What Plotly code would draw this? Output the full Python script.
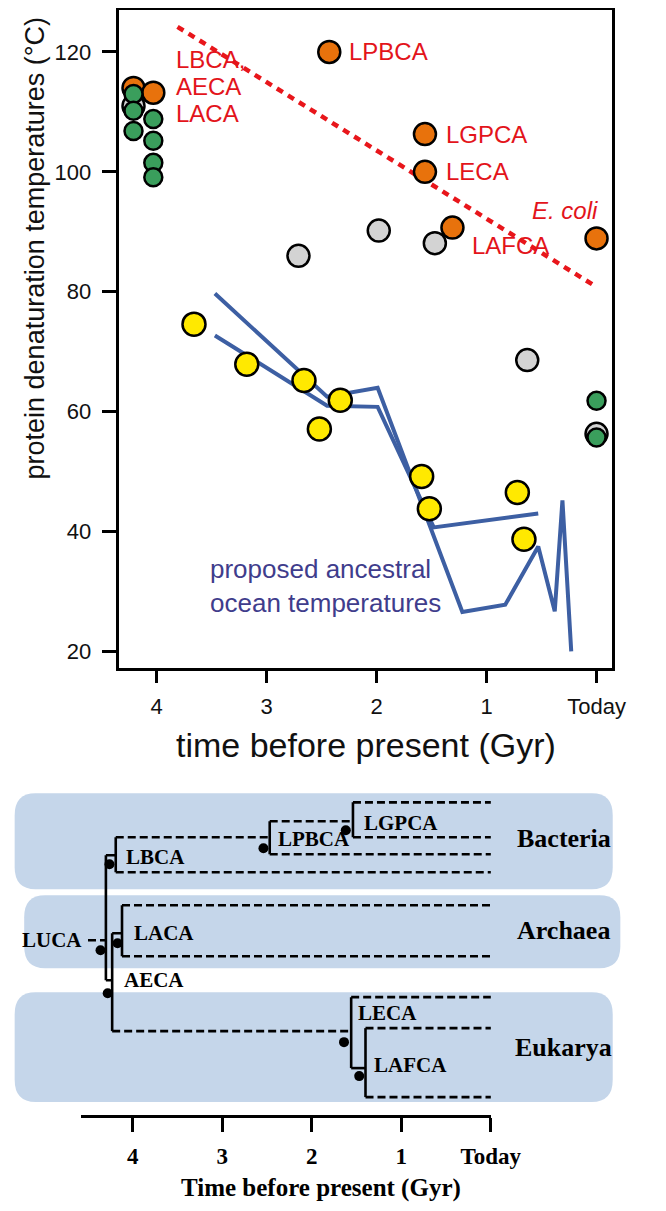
import plotly.graph_objects as go

# page is 666x1211; the html body has an 8px margin, so the figure is 650x1195
OFF = 8
W, H = 666 - 2 * OFF, 1211 - 2 * OFF

# ---------------- top panel data (time in Gyr before present, temperature in C) ----------------
green_t = [4.21, 4.21, 4.21, 4.03, 4.03, 4.03, 4.03, 0.0, 0.0]
green_v = [113.0, 110.2, 106.8, 108.8, 105.2, 101.5, 99.1, 61.8, 55.7]
orange_t = [4.21, 4.03, 2.43, 1.56, 1.56, 1.31, 0.0]
orange_v = [114.0, 113.2, 120.0, 106.3, 100.0, 90.7, 88.9]
gray_t = [4.21, 2.71, 1.98, 1.47, 0.63, 0.0]
gray_v = [111.0, 86.0, 90.2, 88.1, 68.6, 56.3]
yellow_t = [3.66, 3.18, 2.66, 2.52, 2.33, 1.59, 1.52, 0.72, 0.66]
yellow_v = [74.6, 67.9, 65.2, 57.1, 61.9, 49.2, 43.8, 46.5, 38.7]

ocean1_t = [3.47, 2.45, 1.99, 1.22, 0.83, 0.53, 0.38, 0.31, 0.23]
ocean1_v = [79.7, 62.5, 64.0, 26.6, 27.8, 37.5, 26.7, 45.2, 20.0]
ocean2_t = [3.47, 2.45, 1.99, 1.48, 0.53]
ocean2_v = [72.7, 61.0, 60.8, 40.7, 43.0]

trend_t = [3.81, 0.0]
trend_v = [124.2, 80.8]

top_xticks = [4, 3, 2, 1, 0]
top_xticktext = ["4", "3", "2", "1", "Today"]
top_yticks = [20, 40, 60, 80, 100, 120]

# red labels: (text, t, v, anchor)
red_labels = [
    ("LBCA,", 3.84, 118.8, "left"),
    ("AECA", 3.84, 114.2, "left"),
    ("LACA", 3.84, 109.7, "left"),
    ("LPBCA", 2.27, 120.0, "left"),
    ("LGPCA", 1.39, 106.3, "left"),
    ("LECA", 1.39, 100.0, "left"),
    ("<i>E. coli</i>", -0.03, 93.5, "right"),
    ("LAFCA", 1.15, 87.7, "left"),
]

# ---------------- tree data (time in Gyr, row position) ----------------
# horizontal (dashed) branches: (t_start, t_end, row)
dashed_branches = [
    (1.54, 0.0, 802), (1.54, 0.0, 837), (2.47, 1.54, 821), (2.47, 0.0, 854),
    (4.19, 2.47, 837), (4.19, 0.0, 872),
    (4.12, 0.0, 905), (4.12, 0.0, 956),
    (4.50, 4.30, 940),
    (4.23, 1.56, 1031), (1.56, 0.0, 997), (1.40, 0.0, 1028), (1.40, 0.0, 1097),
]
# solid connectors: (t_start, t_end, row)
solid_stubs = [(4.30, 4.19, 855), (4.30, 4.23, 980), (4.23, 4.12, 933), (1.56, 1.40, 1068)]
# vertical lines: (t, row_top, row_bottom)
verticals = [
    (1.54, 802, 837), (2.47, 821, 854), (4.19, 837, 872), (4.30, 855, 980),
    (4.23, 933, 1031), (4.12, 905, 956), (1.56, 997, 1068), (1.40, 1028, 1097),
]
node_names = ["LUCA", "LBCA", "LACA", "AECA", "LPBCA", "LGPCA", "LECA", "LAFCA"]
node_t = [4.36, 4.26, 4.17, 4.28, 2.54, 1.62, 1.64, 1.47]
node_row = [950, 864, 943, 993, 848, 830, 1042, 1076]
# node labels: (text, t, row, anchor)
node_labels = [
    ("LUCA", 4.54, 940, "right"), ("LBCA", 4.10, 857, "left"), ("LACA", 4.01, 933, "left"),
    ("AECA", 4.12, 980, "left"), ("LPBCA", 2.40, 839, "left"), ("LGPCA", 1.44, 823, "left"),
    ("LECA", 1.51, 1013, "left"), ("LAFCA", 1.33, 1065, "left"),
]
domain_names = ["Bacteria", "Archaea", "Eukarya"]
domain_label_t = [-0.27, -0.27, -0.25]
domain_label_row = [838, 930, 1047]
bottom_xticks = [4, 3, 2, 1, 0]
bottom_xticktext = ["4", "3", "2", "1", "Today"]

# ---------------- figure ----------------
SANS = "Liberation Sans, Arial, Helvetica, sans-serif"
SERIF = "Liberation Serif, Times New Roman, serif"


def px(x):
    """page x pixel -> paper fraction"""
    return (x - OFF) / W


def py(y):
    """page y pixel -> paper fraction"""
    return 1 - (y - OFF) / H


fig = go.Figure()

edge = dict(color="black", width=2.5)
fig.add_trace(go.Scatter(x=trend_t, y=trend_v, mode="lines",
                         line=dict(color="#e8161b", width=4.5, dash="7px,6px"),
                         xaxis="x", yaxis="y", showlegend=False))
fig.add_trace(go.Scatter(x=ocean1_t, y=ocean1_v, mode="lines",
                         line=dict(color="#3d5fa3", width=4), showlegend=False))
fig.add_trace(go.Scatter(x=ocean2_t, y=ocean2_v, mode="lines",
                         line=dict(color="#3d5fa3", width=4), showlegend=False))
fig.add_trace(go.Scatter(x=gray_t, y=gray_v, mode="markers",
                         marker=dict(size=22, color="#d3d3d3", line=edge), showlegend=False))
fig.add_trace(go.Scatter(x=orange_t, y=orange_v, mode="markers",
                         marker=dict(size=22, color="#e8720c", line=edge), showlegend=False))
fig.add_trace(go.Scatter(x=yellow_t, y=yellow_v, mode="markers",
                         marker=dict(size=23, color="#ffe900", line=edge), showlegend=False))
fig.add_trace(go.Scatter(x=green_t, y=green_v, mode="markers",
                         marker=dict(size=18, color="#3a9e5c", line=edge), showlegend=False))

for text, t, v, anc in red_labels:
    fig.add_annotation(x=t, y=v, xref="x", yref="y", text=text, showarrow=False,
                       xanchor=anc, yanchor="middle",
                       font=dict(family=SANS, size=24, color="#e3141b"))

fig.add_annotation(x=3.53, y=30.9, xref="x", yref="y",
                   text="proposed ancestral<br>ocean temperatures", showarrow=False,
                   xanchor="left", yanchor="middle", align="left",
                   font=dict(family=SANS, size=26, color="#3f3d8c"))

# axis titles
fig.add_annotation(x=px(36), y=py(247), xref="paper", yref="paper",
                   xanchor="center", yanchor="middle",
                   text="protein denaturation temperatures (°C)", textangle=-90,
                   showarrow=False, font=dict(family=SANS, size=27, color="#111"))
fig.add_annotation(x=px(384), y=py(745), xref="paper", yref="paper",
                   xanchor="center", yanchor="middle",
                   text="time before present (Gyr)", showarrow=False,
                   font=dict(family=SANS, size=34, color="#111"))

# ---------------- tree ----------------
def rrect(x0, y0, x1, y1, r):
    X, Y = px, py
    return (f"M {X(x0+r)},{Y(y0)} L {X(x1-r)},{Y(y0)} Q {X(x1)},{Y(y0)} {X(x1)},{Y(y0+r)} "
            f"L {X(x1)},{Y(y1-r)} Q {X(x1)},{Y(y1)} {X(x1-r)},{Y(y1)} "
            f"L {X(x0+r)},{Y(y1)} Q {X(x0)},{Y(y1)} {X(x0)},{Y(y1-r)} "
            f"L {X(x0)},{Y(y0+r)} Q {X(x0)},{Y(y0)} {X(x0+r)},{Y(y0)} Z")


for (x0, y0, x1, y1) in [(15, 793, 643, 889), (25, 895, 651, 968), (15, 992, 643, 1102)]:
    fig.add_shape(type="path", path=rrect(x0, y0, x1, y1, 22), xref="paper", yref="paper",
                  fillcolor="#c5d6ea", line=dict(width=0), layer="below")

dx, dy = [], []
for a, b, r in dashed_branches:
    dx += [a, b, None]
    dy += [r, r, None]
fig.add_trace(go.Scatter(x=dx, y=dy, mode="lines", xaxis="x2", yaxis="y2",
                         line=dict(color="black", width=2.6, dash="8px,4px"), showlegend=False))
sx, sy = [], []
for a, b, r in solid_stubs:
    sx += [a, b, None]
    sy += [r, r, None]
for t, r0, r1 in verticals:
    sx += [t, t, None]
    sy += [r0, r1, None]
fig.add_trace(go.Scatter(x=sx, y=sy, mode="lines", xaxis="x2", yaxis="y2",
                         line=dict(color="black", width=2.6), showlegend=False))
fig.add_trace(go.Scatter(x=node_t, y=node_row, mode="markers", xaxis="x2", yaxis="y2",
                         text=node_names, hoverinfo="text",
                         marker=dict(size=10, color="black"), showlegend=False))

for text, t, r, anc in node_labels:
    fig.add_annotation(x=t, y=r, xref="x2", yref="y2", text=text, showarrow=False,
                       xanchor=anc, yanchor="middle",
                       font=dict(family=SERIF, size=21, color="black", weight="bold"))
for name, t, r in zip(domain_names, domain_label_t, domain_label_row):
    fig.add_annotation(x=t, y=r, xref="x2", yref="y2", text=name, showarrow=False,
                       xanchor="left", yanchor="middle",
                       font=dict(family=SERIF, size=26, color="black", weight="bold"))

# dummy trace for bottom time axis
fig.add_trace(go.Scatter(x=bottom_xticks, y=[None] * len(bottom_xticks), mode="markers",
                         xaxis="x3", yaxis="y2", showlegend=False, hoverinfo="skip"))

fig.add_annotation(x=px(337), y=py(1188), xref="paper", yref="paper",
                   xanchor="center", yanchor="middle",
                   text="Time before present (Gyr)", showarrow=False,
                   font=dict(family=SERIF, size=25, color="black", weight="bold"))

# top plot: page y 51 <-> 120 C, 6 px per degree
TOP_Y, BOT_Y = 9.5, 668
fig.update_layout(
    width=W, height=H,
    margin=dict(l=0, r=0, t=0, b=0),
    paper_bgcolor="white", plot_bgcolor="rgba(0,0,0,0)",
    showlegend=False,
    xaxis=dict(domain=[px(125), px(642)], range=[4.338, -0.1385], anchor="y",
               showline=True, mirror=True, linecolor="black", linewidth=2.5,
               ticks="outside", ticklen=12, tickwidth=2.5, tickcolor="black",
               tickvals=top_xticks, ticktext=top_xticktext, ticklabelstandoff=4,
               tickfont=dict(family=SANS, size=22, color="#111"),
               showgrid=False, zeroline=False),
    yaxis=dict(domain=[py(BOT_Y), py(TOP_Y)],
               range=[120 - (BOT_Y - 51) / 6, 120 + (51 - TOP_Y) / 6], anchor="x",
               showline=True, mirror=True, linecolor="black", linewidth=2.5,
               ticks="outside", ticklen=15, tickwidth=2.5, tickcolor="black",
               tickvals=top_yticks, ticklabelstandoff=6,
               tickfont=dict(family=SANS, size=22, color="#111"),
               showgrid=False, zeroline=False),
    xaxis2=dict(domain=[0, 1], range=[(515 - OFF) / 94, (515 - 666 + OFF) / 94], anchor="y2",
                visible=False),
    yaxis2=dict(domain=[py(1110), py(780)], range=[1110, 780], anchor="x2",
                visible=False),
    xaxis3=dict(domain=[px(85), px(515)], range=[430 / 94, 0], anchor="free",
                position=py(1116),
                showline=True, linecolor="black", linewidth=3,
                ticks="outside", ticklen=14, tickwidth=3, tickcolor="black",
                tickvals=bottom_xticks, ticktext=bottom_xticktext, ticklabelstandoff=4,
                tickfont=dict(family=SERIF, size=23, color="black", weight="bold"),
                showgrid=False, zeroline=False),
)

fig.write_html("out.html")
